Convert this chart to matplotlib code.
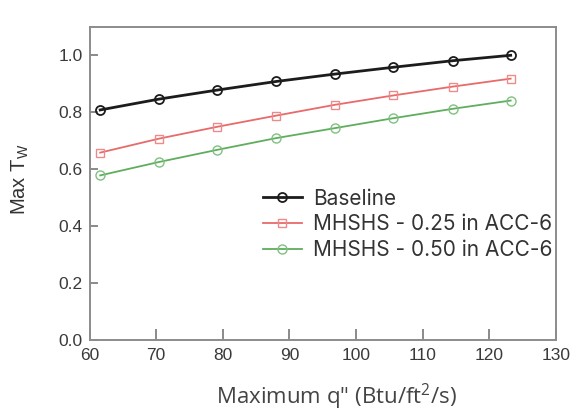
import matplotlib
matplotlib.use("Agg")
import matplotlib.pyplot as plt

q_max = [61.6, 70.4, 79.2, 88.0, 96.8, 105.6, 114.5, 123.2]
baseline = [0.808, 0.846, 0.878, 0.908, 0.934, 0.958, 0.981, 1.0]
mhshs_025 = [0.658, 0.707, 0.749, 0.788, 0.826, 0.859, 0.890, 0.918]
mhshs_050 = [0.578, 0.625, 0.668, 0.709, 0.744, 0.779, 0.812, 0.841]
labels = ["Baseline", "MHSHS - 0.25 in ACC-6", "MHSHS - 0.50 in ACC-6"]
xticks = [60, 70, 80, 90, 100, 110, 120, 130]
yticks = [0.0, 0.2, 0.4, 0.6, 0.8, 1.0]

plt.rcParams['font.family'] = ['Liberation Sans', 'DejaVu Sans']

fig = plt.figure(figsize=(5.72, 4.13), dpi=100)
ax = fig.add_axes([0.1565, 0.177, 0.8155, 0.758])

ax.plot(q_max, baseline, color='#1c1c1c', lw=2.0, marker='o', ms=6.5,
        mfc='none', mec='#1c1c1c', mew=1.3, label=labels[0])
ax.plot(q_max, mhshs_025, color='#e86a6a', lw=1.3, marker='s', ms=6,
        mfc='none', mec='#ee8a8a', mew=1.0, label=labels[1])
ax.plot(q_max, mhshs_050, color='#5eae5e', lw=1.3, marker='o', ms=6.5,
        mfc='none', mec='#80c080', mew=1.0, label=labels[2])

ax.set_xlim(60, 130)
ax.set_ylim(0, 1.1)
ax.set_xticks(xticks)
ax.set_yticks(yticks)
ax.set_yticklabels([f"{v:.1f}" for v in yticks])
ax.tick_params(direction='in', length=6, width=1.2, color='#777777',
               labelsize=12.5, labelcolor='#3a3a3a', pad=5)
ax.tick_params(axis='x', length=8, pad=6)
for s in ax.spines.values():
    s.set_color('#8c8c8c')
    s.set_linewidth(1.4)

fig.text(20 / 572, 1 - 179 / 413, 'Max T$_\\mathregular{W}$', fontsize=14.5,
         color='#333333', rotation=90, ha='center', va='center')
fig.text(336 / 572, 1 - 404.5 / 413, 'Maximum q" (Btu/ft$^\\mathregular{2}$/s)', fontsize=16,
         family=['Open Sans', 'DejaVu Sans'], color='#444444', ha='center', va='baseline')

leg = ax.legend(loc='center left', bbox_to_anchor=(263 / 572, 1 - 224.5 / 413),
                bbox_transform=fig.transFigure, frameon=False,
                prop={'family': ['Inter', 'DejaVu Sans'], 'size': 15},
                handlelength=1.85, handletextpad=0.55, labelspacing=0.28,
                borderpad=0, borderaxespad=0)
for t in leg.get_texts():
    t.set_color('#333333')

fig.savefig('out.png', dpi=100, facecolor='white')
